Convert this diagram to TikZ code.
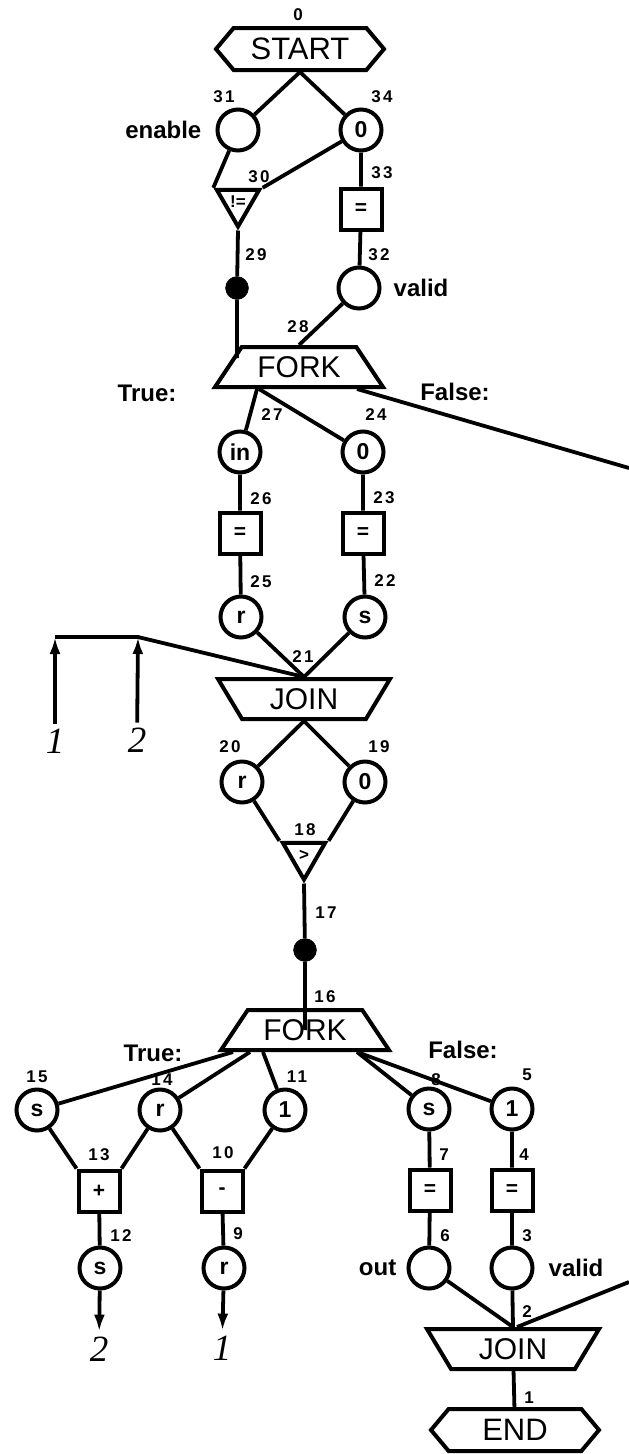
\documentclass[tikz,border=0pt]{standalone}
\usepackage{fontspec}
\setmainfont{Liberation Sans}
\newfontfamily\tagfont{Liberation Sans}[LetterSpace=14]
\newfontfamily\portfont{Liberation Serif}
\usetikzlibrary{arrows.meta,positioning,shapes.geometric,shapes.symbols}
\tikzset{
  ctlbox/.style={draw,signal,signal to=west and east,signal pointer angle=100,
    line width=4pt,minimum width=168pt,minimum height=42pt,inner sep=1pt,
    font=\fontsize{31}{31}\selectfont},
  forkbox/.style={draw,trapezium,trapezium left angle=41,trapezium right angle=41,
    trapezium stretches body,line width=4pt,minimum width=168pt,
    minimum height=40pt,inner sep=1pt,font=\fontsize{30}{30}\selectfont},
  joinbox/.style={forkbox,trapezium left angle=136,trapezium right angle=136,
    minimum width=172pt},
  var/.style={draw,circle,line width=4pt,minimum size=41pt,inner sep=0pt,
    font=\bfseries\fontsize{23}{23}\selectfont},
  op/.style={draw,rectangle,line width=4pt,minimum size=41pt,inner sep=0pt,
    font=\bfseries\fontsize{21}{21}\selectfont},
  test/.style={draw,regular polygon,regular polygon sides=3,shape border rotate=180,
    line width=4pt,minimum size=49pt,inner sep=0pt,
    font=\bfseries\fontsize{17}{17}\selectfont},
  gate/.style={draw,circle,fill=black,minimum size=23pt,inner sep=0pt},
  tag/.style={font=\tagfont\bfseries\fontsize{17}{17}\selectfont,inner sep=0pt},
  side/.style={font=\bfseries\fontsize{24}{24}\selectfont,inner sep=0pt},
  port/.style={font=\portfont\itshape\fontsize{37}{37}\selectfont,inner sep=5pt},
  wire/.style={line width=3.8pt},
  feed/.style={wire,-{Latex[length=17pt,width=11pt]}}
}

\begin{document}
\begin{tikzpicture}[x=1pt,y=-1pt]
\useasboundingbox (0,0) rectangle (629,1454);

% condition part
\node[ctlbox] (n0) at (300,49) {START};
\node[var] (n31) at (238,130) {};
\node[side,left=14pt of n31] (enable) {enable};
\node[var] (n34) at (361,130) {0};
\node[test] (n30) at (238,202) {!=};
\node[op] (n33) at (361,209) {=};
\node[gate] (n29) at (237,288) {};
\node[var] (n32) at (359,288) {};
\node[side,right=12pt of n32] (valid1) {valid};
\node[forkbox] (n28) at (299,367) {FORK};
\node[side] (true1) at (147,393) {True:};
\node[side] (false1) at (455,392) {False:};
\coordinate (away) at (629,468);
\path (n29 |- n28.north) ++(0,13) coordinate (hit28);

% loop header
\node[var] (n27) at (240,452) {in};
\node[var] (n24) at (363,452) {0};
\node[op] (n26) at (240,533) {=};
\node[op] (n23) at (363,533) {=};
\node[var] (n25) at (241,617) {r};
\node[var] (n22) at (365,617) {s};
\node[joinbox] (n21) at (304,699) {JOIN};
\node[port] (p1) at (55,741) {1};
\node[port] (p2) at (137,740) {2};
\coordinate (back1) at (55,637);
\coordinate (back2) at (138,637);

\node[var] (n20) at (242,782) {r};
\node[var] (n19) at (365,782) {0};
\node[test] (n18) at (304,855) {>};
\node[gate] (n17) at (305,950) {};
\node[forkbox] (n16) at (305,1030) {FORK};
\node[side] (true2) at (153,1053) {True:};
\node[side] (false2) at (463,1050) {False:};

% loop body and exit
\node[var] (n15) at (37,1110) {s};
\node[var] (n14) at (160,1110) {r};
\node[var] (n11) at (285,1110) {1};
\node[var] (n8) at (429,1109) {s};
\node[var] (n5) at (512,1109) {1};
\node[op] (n13) at (99,1191) {+};
\node[op] (n10) at (222,1191) {-};
\node[op] (n7) at (430,1190) {=};
\node[op] (n4) at (512,1190) {=};
\node[var] (n12) at (100,1268) {s};
\node[var] (n9) at (224,1268) {r};
\node[var] (n6) at (429,1268) {};
\node[side,left=10pt of n6] (out) {out};
\node[var] (n3) at (512,1268) {};
\node[side,right=14pt of n3] (valid2) {valid};
\node[port] (q2) at (99,1349) {2};
\node[port] (q1) at (222,1348) {1};
\coordinate (home) at (629,1282);
\node[joinbox] (n2) at (513,1349) {JOIN};
\node[ctlbox] (n1) at (515,1430) {END};

% node numbers
\node[tag] (t0) at (298,15) {0};
\node[tag] (t31) at (224,97) {31};  \node[tag] (t34) at (382,97) {34};
\node[tag] (t30) at (259,177) {30}; \node[tag] (t33) at (382,173) {33};
\node[tag] (t29) at (256,255) {29}; \node[tag] (t32) at (379,255) {32};
\node[tag] (t28) at (298,327) {28};
\node[tag] (t27) at (272,415) {27}; \node[tag] (t24) at (376,415) {24};
\node[tag] (t26) at (261,499) {26}; \node[tag] (t23) at (384,498) {23};
\node[tag] (t25) at (261,582) {25}; \node[tag] (t22) at (385,581) {22};
\node[tag] (t21) at (303,657) {21};
\node[tag] (t20) at (230,747) {20}; \node[tag] (t19) at (379,747) {19};
\node[tag] (t18) at (305,830) {18};
\node[tag] (t17) at (326,913) {17};
\node[tag] (t16) at (325,997) {16};
\node[tag] (t15) at (37,1077) {15};  \node[tag] (t14) at (162,1080) {14};
\node[tag] (t11) at (297,1077) {11}; \node[tag] (t8) at (436,1080) {8};
\node[tag] (t5) at (527,1075) {5};
\node[tag] (t13) at (99,1155) {13};  \node[tag] (t10) at (223,1153) {10};
\node[tag] (t7) at (444,1155) {7};   \node[tag] (t4) at (524,1155) {4};
\node[tag] (t12) at (121,1236) {12}; \node[tag] (t9) at (238,1234) {9};
\node[tag] (t6) at (445,1236) {6};   \node[tag] (t3) at (527,1236) {3};
\node[tag] (t2) at (527,1312) {2};
\node[tag] (t1) at (529,1398) {1};

% arcs
\draw[wire] (n0.south) -- (n31);
\draw[wire] (n0.south) -- (n34);
\draw[wire] (n31) -- (n30.corner 3);
\draw[wire] (n34) -- (n30.corner 2);
\draw[wire] (n34) -- (n33) -- (n32) -- (n28.north);
\draw[wire] (n30.corner 1) -- (n29) -- (hit28);

\draw[wire] ([xshift=-42pt]n28.south) -- (n27);
\draw[wire] ([xshift=-40pt]n28.south) -- (n24);
\draw[wire] ([xshift=58pt]n28.south) -- (away);
\draw[wire] (n27) -- (n26) -- (n25) -- (n21.north);
\draw[wire] (n24) -- (n23) -- (n22) -- (n21.north);
\draw[feed] (p1) -- (back1);
\draw[feed] (p2) -- (back2);
\draw[wire] (back1) -- (back2) -- (n21.north);

\draw[wire] (n21.south) -- (n20);
\draw[wire] (n21.south) -- (n19);
\draw[wire] (n20) -- (n18.corner 3);
\draw[wire] (n19) -- (n18.corner 2);
\draw[wire] (n18.corner 1) -- (n17) -- (n16.center);

\draw[wire] ([xshift=-72pt]n16.south) -- (n15);
\draw[wire] ([xshift=-55pt]n16.south) -- (n14);
\draw[wire] ([xshift=-42pt]n16.south) -- (n11);
\draw[wire] ([xshift=52pt]n16.south) -- (n8);
\draw[wire] ([xshift=52pt]n16.south) -- (n5);

\draw[wire] (n15) -- (n13.north west);
\draw[wire] (n14) -- (n13.north east);
\draw[wire] (n14) -- (n10.north west);
\draw[wire] (n11) -- (n10.north east);
\draw[wire] (n13) -- (n12);
\draw[wire] (n10) -- (n9);
\draw[feed] (n12) -- (q2);
\draw[feed] (n9) -- (q1);

\draw[wire] (n8) -- (n7) -- (n6) -- (n2.north);
\draw[wire] (n5) -- (n4) -- (n3) -- (n2.north);
\draw[wire] (home) -- ([xshift=4pt]n2.north);
\draw[wire] (n2) -- (n1);
\end{tikzpicture}
\end{document}
